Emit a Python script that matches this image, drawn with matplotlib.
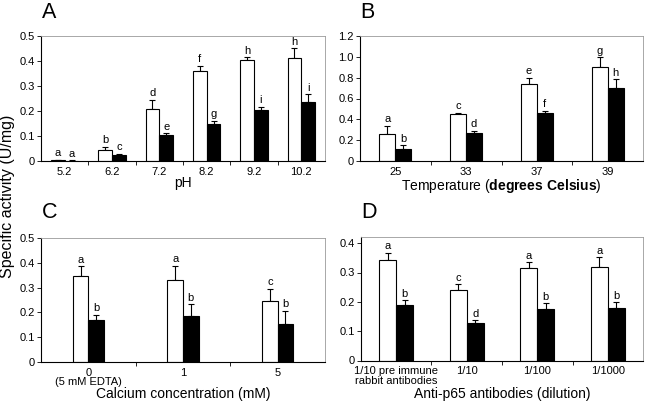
import matplotlib
matplotlib.use("Agg")
import matplotlib.pyplot as plt
import numpy as np
from matplotlib.ticker import FuncFormatter, FixedLocator

plt.rcParams['font.family'] = ['Liberation Sans', 'DejaVu Sans']
plt.rcParams['mathtext.fontset'] = 'custom'
plt.rcParams['mathtext.rm'] = 'Liberation Sans'
plt.rcParams['mathtext.bf'] = 'Liberation Sans:bold'

# ---- Panel A: pH ----
ph_labels = ["5.2", "6.2", "7.2", "8.2", "9.2", "10.2"]
ph_white = [0.003, 0.044, 0.209, 0.359, 0.403, 0.411]
ph_white_err = [0.001, 0.013, 0.036, 0.021, 0.013, 0.040]
ph_black = [0.002, 0.025, 0.104, 0.148, 0.205, 0.238]
ph_black_err = [0.001, 0.005, 0.007, 0.014, 0.012, 0.029]
ph_white_let = ["a", "b", "d", "f", "h", "h"]
ph_black_let = ["a", "c", "e", "g", "i", "i"]

# ---- Panel B: temperature ----
temp_labels = ["25", "33", "37", "39"]
temp_white = [0.256, 0.448, 0.736, 0.899]
temp_white_err = [0.080, 0.016, 0.061, 0.096]
temp_black = [0.112, 0.269, 0.464, 0.698]
temp_black_err = [0.038, 0.022, 0.016, 0.086]
temp_white_let = ["a", "c", "e", "g"]
temp_black_let = ["b", "d", "f", "h"]

# ---- Panel C: calcium ----
ca_labels = ["0\n(5 mM EDTA)", "1", "5"]
ca_white = [0.347, 0.329, 0.246]
ca_white_err = [0.039, 0.059, 0.050]
ca_black = [0.171, 0.185, 0.155]
ca_black_err = [0.020, 0.048, 0.051]
ca_white_let = ["a", "a", "c"]
ca_black_let = ["b", "b", "b"]

# ---- Panel D: antibodies ----
ab_labels = ["1/10 pre immune\nrabbit antibodies", "1/10", "1/100", "1/1000"]
ab_white = [0.342, 0.242, 0.315, 0.319]
ab_white_err = [0.026, 0.018, 0.020, 0.033]
ab_black = [0.188, 0.128, 0.176, 0.178]
ab_black_err = [0.017, 0.010, 0.019, 0.021]
ab_white_let = ["a", "c", "a", "a"]
ab_black_let = ["b", "d", "b", "b"]

fig = plt.figure(figsize=(6.45, 4.03), dpi=100)

def fmt(v, pos):
    if abs(v) < 1e-9:
        return "0"
    return "%.1f" % v

def panel(rect, labels, w, we, b, be, wl, bl, ylim, yticks, bw, xlabel,
          label_y, letter, letter_xy, pad):
    ax = fig.add_axes(rect)
    n = len(labels)
    x = np.arange(n)
    ax.bar(x - bw / 2, w, bw, color="white", edgecolor="black", linewidth=0.8, zorder=2)
    ax.bar(x + bw / 2, b, bw, color="black", edgecolor="black", linewidth=0.8, zorder=2)
    ax.errorbar(x - bw / 2, w, yerr=[np.zeros(n), we], fmt="none", ecolor="black",
                elinewidth=0.8, capsize=2, capthick=0.8, zorder=1)
    ax.errorbar(x + bw / 2, b, yerr=[np.zeros(n), be], fmt="none", ecolor="black",
                elinewidth=0.8, capsize=2, capthick=0.8, zorder=1)
    for i in range(n):
        ax.text(x[i] - bw / 2, w[i] + we[i] + pad, wl[i], ha="center", va="bottom", fontsize=8)
        ax.text(x[i] + bw / 2, b[i] + be[i] + pad, bl[i], ha="center", va="bottom", fontsize=8)
    ax.set_xlim(-0.5, n - 0.5)
    ax.set_ylim(*ylim)
    ax.set_yticks(yticks)
    ax.yaxis.set_major_formatter(FuncFormatter(fmt))
    ax.set_xticks(x)
    ax.set_xticklabels(labels, fontsize=8, linespacing=0.95)
    ax.tick_params(axis="x", which="major", length=0, pad=4)
    ax.xaxis.set_minor_locator(FixedLocator(np.arange(n - 1) + 0.5))
    ax.tick_params(axis="x", which="minor", length=3, width=0.6, direction="out")
    ax.tick_params(axis="y", labelsize=8, length=3, width=0.6, pad=1.5)
    for s in ["top", "right"]:
        ax.spines[s].set_color("#9a9a9a")
        ax.spines[s].set_linewidth(0.6)
    for s in ["left", "bottom"]:
        ax.spines[s].set_color("black")
        ax.spines[s].set_linewidth(0.8)
    ax.set_xlabel(xlabel, fontsize=10)
    ax.xaxis.set_label_coords(0.5, label_y)
    fig.text(letter_xy[0] / 645, 1 - letter_xy[1] / 403, letter, fontsize=15.5,
             ha="left", va="baseline")
    return ax

panel([41 / 645, 1 - 161 / 403, 284 / 645, 125 / 403], ph_labels, ph_white, ph_white_err,
      ph_black, ph_black_err, ph_white_let, ph_black_let, (0, 0.5),
      [0, 0.1, 0.2, 0.3, 0.4, 0.5], 0.29, "pH", -0.12, "A", (42, 18.5), 0.006)

panel([360 / 645, 1 - 161 / 403, 283 / 645, 125 / 403], temp_labels, temp_white, temp_white_err,
      temp_black, temp_black_err, temp_white_let, temp_black_let, (0, 1.2),
      [0, 0.2, 0.4, 0.6, 0.8, 1.0, 1.2], 0.226,
      r"Temperature ($\mathbf{degrees\ Celsius}$)", -0.13, "B", (360, 18.5), 0.015)

panel([41 / 645, 1 - 362 / 403, 284 / 645, 124 / 403], ca_labels, ca_white, ca_white_err,
      ca_black, ca_black_err, ca_white_let, ca_black_let, (0, 0.5),
      [0, 0.1, 0.2, 0.3, 0.4, 0.5], 0.165, "Calcium concentration (mM)", -0.205,
      "C", (42, 218.5), 0.006)

panel([361 / 645, 1 - 360.5 / 403, 282 / 645, 123.2 / 403], ab_labels, ab_white, ab_white_err,
      ab_black, ab_black_err, ab_white_let, ab_black_let, (0, 0.42),
      [0, 0.1, 0.2, 0.3, 0.4], 0.24, "Anti-p65 antibodies (dilution)", -0.218,
      "D", (361, 218.5), 0.005)

fig.text(8 / 645, 1 - 196 / 403, "Specific activity (U/mg)", rotation=90, ha="center",
         va="center", fontsize=11.5)

fig.savefig("out.png", dpi=100)
